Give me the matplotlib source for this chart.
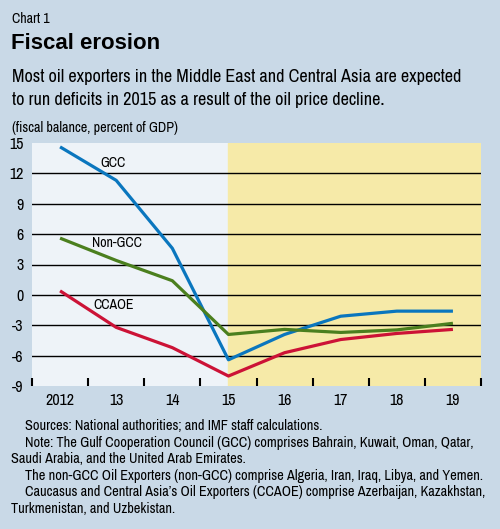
#!/usr/bin/env python3
import matplotlib
matplotlib.use('agg')
import matplotlib.pyplot as plt

NARROW = ['Archivo Narrow', 'DejaVu Sans']

years = [2012, 2013, 2014, 2015, 2016, 2017, 2018, 2019]
year_labels = ["2012", "13", "14", "15", "16", "17", "18", "19"]
gcc = [14.6, 11.3, 4.6, -6.4, -3.9, -2.1, -1.6, -1.6]
non_gcc = [5.6, 3.4, 1.4, -3.9, -3.4, -3.7, -3.45, -2.8]
ccaoe = [0.4, -3.2, -5.2, -8.0, -5.7, -4.4, -3.8, -3.4]
y_ticks = [15, 12, 9, 6, 3, 0, -3, -6, -9]
grid_vals = [12, 9, 6, 3, 0, -3, -6]

BG = "#c9d9e7"
PANEL = "#eef3f8"
YELLOW = "#f6eaa8"

fig = plt.figure(figsize=(5.0, 5.29), dpi=100, facecolor=BG)
ax = fig.add_axes([0.064, 0.270, 0.898, 0.460])
ax.set_facecolor(PANEL)
ax.set_xlim(2011.5, 2019.5)
ax.set_ylim(-9, 15)
ax.axvspan(2015, 2019.5, color=YELLOW, zorder=0)
for g in grid_vals:
    ax.axhline(g, color="black", linewidth=1.0, zorder=1)

ax.plot(years, gcc, color="#0a76be", linewidth=2.3, solid_capstyle="butt", zorder=3)
ax.plot(years, non_gcc, color="#4b7f1e", linewidth=2.3, solid_capstyle="butt", zorder=3)
ax.plot(years, ccaoe, color="#cc1236", linewidth=2.3, solid_capstyle="butt", zorder=3)

ax.text(2012.95, 13.0, "GCC", family=NARROW, fontsize=10, ha="center", va="center")
ax.text(2013.02, 5.1, "Non-GCC", family=NARROW, fontsize=10, ha="center", va="center")
ax.text(2012.96, -1.0, "CCAOE", family=NARROW, fontsize=10, ha="center", va="center")

for s in ax.spines.values():
    s.set_visible(False)
ax.set_yticks(y_ticks)
ax.set_yticklabels([str(v) for v in y_ticks], family=NARROW, fontsize=11.5)
ax.tick_params(axis="y", length=0, pad=6)
ax.set_xticks(years)
ax.set_xticklabels(year_labels, family=NARROW, fontsize=11.5)
ax.tick_params(axis="x", which="major", length=0, pad=5)
ax.set_xticks([y + 0.5 for y in [2011] + years], minor=True)
ax.tick_params(axis="x", which="minor", direction="in", length=6, width=1.5, color="black")

fig.text(0.024, 0.964, "Chart 1", family=NARROW, fontsize=10, va="center")
fig.text(0.022, 0.918, "Fiscal erosion", family=['Liberation Sans', 'DejaVu Sans'],
         fontsize=16, fontweight="bold", va="center")
fig.text(0.024, 0.854, "Most oil exporters in the Middle East and Central Asia are expected",
         family=NARROW, fontsize=13.1, va="center")
fig.text(0.024, 0.811, "to run deficits in 2015 as a result of the oil price decline.",
         family=NARROW, fontsize=13.1, va="center")
fig.text(0.024, 0.758, "(fiscal balance, percent of GDP)", family=NARROW, fontsize=10.2, va="center")

notes = [
    (0.050, 430, "Sources: National authorities; and IMF staff calculations."),
    (0.050, 446.6, "Note: The Gulf Cooperation Council (GCC) comprises Bahrain, Kuwait, Oman, Qatar,"),
    (0.022, 463.2, "Saudi Arabia, and the United Arab Emirates."),
    (0.050, 479.8, "The non-GCC Oil Exporters (non-GCC) comprise Algeria, Iran, Iraq, Libya, and Yemen."),
    (0.050, 496.4, "Caucasus and Central Asia\u2019s Oil Exporters (CCAOE) comprise Azerbaijan, Kazakhstan,"),
    (0.022, 513, "Turkmenistan, and Uzbekistan."),
]
for x, ypx, t in notes:
    fig.text(x, 1 - ypx / 529, t, family=NARROW, fontsize=10.3, va="baseline")

fig.savefig("out.png", dpi=100, facecolor=BG)
